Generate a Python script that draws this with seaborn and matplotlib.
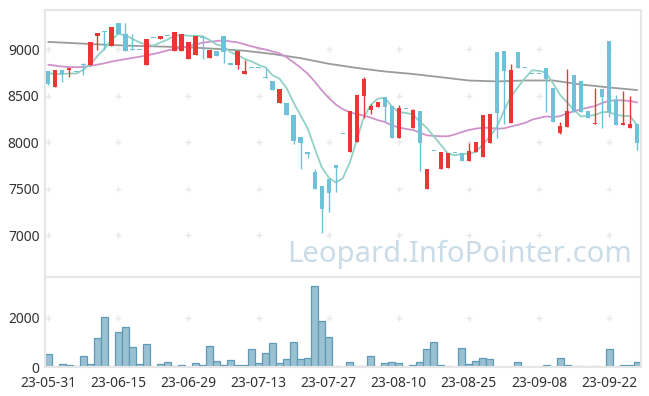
import numpy as np
import pandas as pd
import matplotlib
matplotlib.use('Agg')
import matplotlib.pyplot as plt
import seaborn as sns

# trading days (KRX holidays removed)
holidays = ['2023-06-06', '2023-08-15', '2023-09-28', '2023-09-29', '2023-10-02', '2023-10-03']
dates = pd.bdate_range('2023-05-31', '2023-10-04', freq='C', holidays=holidays)

open_ = [8770, 8600, 8780, 8780, 8760, 8840, 8830, 9145, 9190, 9040,
         9280, 9170, 9000, 8990, 8830, 9125, 9115, 9145, 8985, 8985,
         8895, 8935, 9130, 8910, 8980, 9145, 8855, 8830, 8735, 8795,
         8795, 8700, 8660, 8425, 8425, 8295, 8055, 7895, 7685, 7530,
         7605, 7755, 8095, 7900, 8005, 8500, 8350, 8380, 8490, 8390,
         8050, 8355, 8155, 8335, 7500, 7905, 7710, 7725, 7890, 7880,
         7800, 7900, 7845, 7995, 8975, 8985, 8210, 8975, 8795, 8740,
         8740, 8795, 8580, 8105, 8170, 8725, 8660, 8335, 8195, 8575,
         9095, 8455, 8185, 8150, 8195]
high = [8770, 8780, 8780, 8800, 8760, 8850, 9080, 9175, 9195, 9235,
        9280, 9280, 9170, 8990, 9115, 9125, 9145, 9145, 9190, 9170,
        9080, 9145, 9140, 8990, 8980, 9145, 8855, 8980, 8885, 8795,
        8795, 8800, 8660, 8575, 8425, 8295, 8055, 7895, 7710, 7530,
        7605, 7755, 8095, 8335, 8510, 8700, 8410, 8430, 8490, 8390,
        8400, 8355, 8360, 8335, 7715, 7905, 7900, 7890, 7890, 7880,
        7995, 8005, 8295, 8305, 8975, 8985, 8840, 8975, 8795, 8740,
        8740, 8795, 8580, 8215, 8785, 8725, 8660, 8335, 8580, 8575,
        9095, 8510, 8555, 8500, 8195]
low = [8620, 8600, 8650, 8700, 8760, 8720, 8830, 8990, 8990, 9040,
       9170, 8985, 8990, 8990, 8830, 9125, 9115, 9145, 8985, 8985,
       8895, 8935, 8900, 8910, 8930, 8850, 8830, 8790, 8735, 8795,
       8795, 8690, 8560, 8425, 8295, 7980, 7710, 7830, 7500, 7020,
       7255, 7470, 8095, 7900, 8005, 8260, 8310, 8380, 8220, 8050,
       8050, 8355, 8155, 7690, 7500, 7905, 7710, 7725, 7890, 7800,
       7800, 7900, 7845, 7995, 8050, 8195, 8210, 8795, 8795, 8740,
       8740, 8330, 8220, 8090, 8170, 8330, 8330, 8265, 8195, 8150,
       8275, 8185, 8185, 8150, 7915]
close = [8630, 8780, 8730, 8800, 8760, 8830, 9075, 9175, 9185, 9235,
         9170, 8985, 8990, 8990, 9115, 9125, 9145, 9145, 9190, 9170,
         9080, 9145, 9120, 8990, 8930, 8975, 8830, 8980, 8765, 8795,
         8795, 8690, 8560, 8575, 8295, 8015, 7995, 7875, 7500, 7285,
         7460, 7725, 8095, 8335, 8510, 8680, 8390, 8430, 8385, 8050,
         8365, 8355, 8345, 7995, 7715, 7905, 7900, 7890, 7890, 7800,
         7905, 8005, 8295, 8305, 8320, 8770, 8775, 8795, 8795, 8740,
         8740, 8680, 8220, 8175, 8335, 8330, 8330, 8265, 8210, 8490,
         8330, 8185, 8210, 8195, 7990]
volume = [520, 0, 120, 80, 40, 440, 120, 1170, 2010, 40,
          1410, 1610, 800, 120, 930, 0, 120, 200, 40, 80,
          0, 160, 80, 850, 240, 80, 280, 80, 80, 720,
          160, 560, 970, 160, 320, 1010, 320, 360, 3260, 1850,
          1210, 40, 0, 200, 40, 40, 440, 0, 160, 200,
          160, 0, 80, 200, 720, 1010, 80, 40, 0, 760,
          120, 240, 360, 320, 0, 0, 0, 200, 0, 0,
          0, 80, 0, 360, 80, 40, 40, 0, 40, 0,
          720, 0, 80, 80, 200]

# moving averages: the first values need days before the chart
ma5_head = [8745, 8735, 8735, 8740]
ma20_head = [8835, 8825, 8815, 8810, 8808, 8812, 8822, 8835, 8850, 8868,
             8882, 8895, 8908, 8920, 8935, 8950, 8968, 8988, 9005]
ma60_idx = [0, 4, 8, 12, 16, 20, 24, 28, 32, 36, 40,
            44, 48, 52, 56, 60, 64, 68, 72, 76, 80, 84]
ma60_val = [9080, 9065, 9050, 9038, 9030, 9022, 9005, 8985, 8950, 8905, 8845,
            8800, 8762, 8735, 8700, 8665, 8655, 8665, 8665, 8622, 8590, 8562]

RED = '#ee3535'
BLUE = '#6dc2d9'

sns.set_style('white')
plt.rcParams['font.family'] = ['Noto Sans', 'DejaVu Sans']

W, H = 649, 396
fig = plt.figure(figsize=(W / 100, H / 100), dpi=100)
ax = fig.add_axes([45 / W, 1 - 277 / H, 596 / W, 267 / H])
axv = fig.add_axes([45 / W, 1 - 367.3 / H, 596 / W, 89.3 / H])

x = np.arange(len(close))
o = np.array(open_)
c = np.array(close)
cols = [RED if cc > oo else BLUE for oo, cc in zip(o, c)]

# grid marks
gx, gy = np.meshgrid(np.arange(0, 85, 10), np.arange(7000, 9001, 500))
ax.plot(gx.ravel(), gy.ravel(), '+', color='#e8e8e8', ms=5, mew=1, zorder=0)

ma5 = pd.Series(close, dtype=float).rolling(5).mean()
ma5.iloc[:4] = ma5_head
ma20 = pd.Series(close, dtype=float).rolling(20).mean()
ma20.iloc[:19] = ma20_head
sns.lineplot(x=ma60_idx, y=ma60_val, ax=ax, color='#9b9b9b', lw=1.3, zorder=2)
sns.lineplot(x=x, y=ma20.values, ax=ax, color='#cf93cb', lw=1.3, zorder=2)
sns.lineplot(x=x, y=ma5.values, ax=ax, color='#92d1c5', lw=1.3, zorder=2)

ax.vlines(x, low, high, colors=cols, lw=1, zorder=3)
body_h = np.maximum(np.abs(c - o), 10)
ax.bar(x, body_h, bottom=np.minimum(o, c), width=0.62, color=cols, lw=0, zorder=4)

ax.set_xlim(-0.47, 84.55)
ax.set_ylim(6552, 9423)
ax.set_xticks([])
ax.set_yticks([7000, 7500, 8000, 8500, 9000])
ax.tick_params(axis='y', length=0, pad=4, labelsize=10, labelcolor='#333333')
ax.set_xlabel('')
ax.set_ylabel('')

# volume
gvx = np.arange(0, 85, 10)
axv.plot(gvx, np.full(len(gvx), 2000), '+', color='#e8e8e8', ms=5, mew=1, zorder=0)
sns.barplot(x=x, y=volume, ax=axv, width=1, color='#9ac1d2', saturation=1,
            edgecolor='#5f9bb6', linewidth=0.9, zorder=2)
axv.set_xlim(-0.47, 84.55)
axv.set_ylim(0, 3594)
axv.set_yticks([0, 2000])
axv.set_xticks(gvx)
axv.set_xticklabels([dates[i].strftime('%y-%m-%d') for i in gvx])
axv.tick_params(length=0, labelsize=10, labelcolor='#333333')
axv.tick_params(axis='y', pad=4)
axv.tick_params(axis='x', pad=6)
axv.set_xlabel('')
axv.set_ylabel('')

for a in (ax, axv):
    for s in a.spines.values():
        s.set_color('#e6e6e6')
        s.set_linewidth(1.5)
axv.spines['top'].set_visible(False)

fig.text(460 / W, 1 - 254 / H, 'Leopard.InfoPointer.com', fontsize=21,
         color='#c9dce7', ha='center', va='center', zorder=1)

fig.savefig('out.png', dpi=100)
